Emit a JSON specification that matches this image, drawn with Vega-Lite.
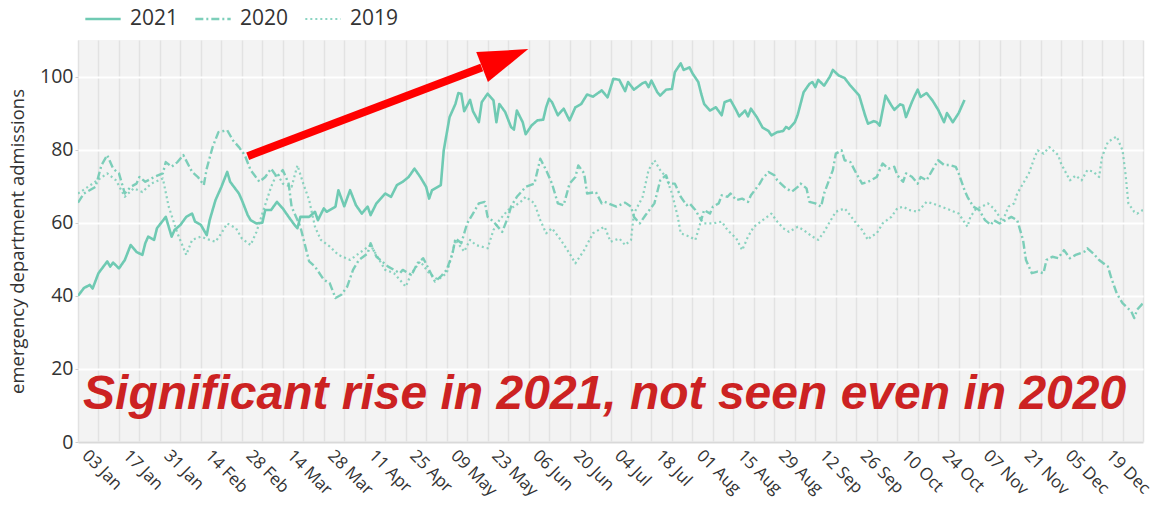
{
  "$schema": "https://vega.github.io/schema/vega-lite/v6.json",
  "width": 1065,
  "height": 402,
  "autosize": {"type": "none"},
  "padding": {"left": 78, "top": 40, "right": 12, "bottom": 63},
  "background": "white",
  "config": {
    "view": {"fill": "#f3f3f3", "stroke": null},
    "font": "Open Sans"
  },
  "datasets": {
    "series": [
      {"date":"2021-01-03","year":"2021","value":40},
      {"date":"2021-01-05","year":"2021","value":42.1},
      {"date":"2021-01-07","year":"2021","value":43},
      {"date":"2021-01-08","year":"2021","value":42},
      {"date":"2021-01-10","year":"2021","value":46.2},
      {"date":"2021-01-13","year":"2021","value":49.4},
      {"date":"2021-01-14","year":"2021","value":48},
      {"date":"2021-01-15","year":"2021","value":49.1},
      {"date":"2021-01-17","year":"2021","value":47.5},
      {"date":"2021-01-19","year":"2021","value":49.8},
      {"date":"2021-01-21","year":"2021","value":53.9},
      {"date":"2021-01-23","year":"2021","value":52},
      {"date":"2021-01-25","year":"2021","value":51.2},
      {"date":"2021-01-26","year":"2021","value":54.4},
      {"date":"2021-01-27","year":"2021","value":56.2},
      {"date":"2021-01-29","year":"2021","value":55.3},
      {"date":"2021-01-30","year":"2021","value":58.5},
      {"date":"2021-02-02","year":"2021","value":61.6},
      {"date":"2021-02-03","year":"2021","value":58.9},
      {"date":"2021-02-04","year":"2021","value":56.2},
      {"date":"2021-02-05","year":"2021","value":58},
      {"date":"2021-02-07","year":"2021","value":59.4},
      {"date":"2021-02-09","year":"2021","value":61.6},
      {"date":"2021-02-11","year":"2021","value":62.5},
      {"date":"2021-02-12","year":"2021","value":60.3},
      {"date":"2021-02-14","year":"2021","value":59.4},
      {"date":"2021-02-16","year":"2021","value":56.6},
      {"date":"2021-02-17","year":"2021","value":60.7},
      {"date":"2021-02-19","year":"2021","value":66.2},
      {"date":"2021-02-21","year":"2021","value":69.8},
      {"date":"2021-02-23","year":"2021","value":73.9},
      {"date":"2021-02-24","year":"2021","value":71.2},
      {"date":"2021-02-27","year":"2021","value":68},
      {"date":"2021-02-28","year":"2021","value":66.2},
      {"date":"2021-03-02","year":"2021","value":62.1},
      {"date":"2021-03-03","year":"2021","value":60.7},
      {"date":"2021-03-05","year":"2021","value":59.8},
      {"date":"2021-03-07","year":"2021","value":60},
      {"date":"2021-03-08","year":"2021","value":63.5},
      {"date":"2021-03-10","year":"2021","value":63.5},
      {"date":"2021-03-12","year":"2021","value":65.7},
      {"date":"2021-03-14","year":"2021","value":63.9},
      {"date":"2021-03-16","year":"2021","value":61.6},
      {"date":"2021-03-18","year":"2021","value":59.4},
      {"date":"2021-03-19","year":"2021","value":58.5},
      {"date":"2021-03-20","year":"2021","value":61.6},
      {"date":"2021-03-23","year":"2021","value":61.6},
      {"date":"2021-03-25","year":"2021","value":63},
      {"date":"2021-03-26","year":"2021","value":60.7},
      {"date":"2021-03-28","year":"2021","value":63.9},
      {"date":"2021-03-29","year":"2021","value":63},
      {"date":"2021-04-01","year":"2021","value":64.4},
      {"date":"2021-04-02","year":"2021","value":68.9},
      {"date":"2021-04-04","year":"2021","value":64.5},
      {"date":"2021-04-06","year":"2021","value":68.9},
      {"date":"2021-04-08","year":"2021","value":64.8},
      {"date":"2021-04-10","year":"2021","value":62.5},
      {"date":"2021-04-12","year":"2021","value":64.4},
      {"date":"2021-04-13","year":"2021","value":62.1},
      {"date":"2021-04-15","year":"2021","value":65.3},
      {"date":"2021-04-18","year":"2021","value":68},
      {"date":"2021-04-20","year":"2021","value":67.1},
      {"date":"2021-04-22","year":"2021","value":70.3},
      {"date":"2021-04-24","year":"2021","value":71.2},
      {"date":"2021-04-26","year":"2021","value":72.5},
      {"date":"2021-04-28","year":"2021","value":74.8},
      {"date":"2021-04-30","year":"2021","value":72.5},
      {"date":"2021-05-02","year":"2021","value":69.8},
      {"date":"2021-05-03","year":"2021","value":66.6},
      {"date":"2021-05-04","year":"2021","value":68.9},
      {"date":"2021-05-07","year":"2021","value":70.3},
      {"date":"2021-05-08","year":"2021","value":79.8},
      {"date":"2021-05-10","year":"2021","value":88.9},
      {"date":"2021-05-12","year":"2021","value":92.5},
      {"date":"2021-05-13","year":"2021","value":95.5},
      {"date":"2021-05-14","year":"2021","value":95.3},
      {"date":"2021-05-15","year":"2021","value":90.5},
      {"date":"2021-05-17","year":"2021","value":93.6},
      {"date":"2021-05-18","year":"2021","value":90.5},
      {"date":"2021-05-20","year":"2021","value":87.5},
      {"date":"2021-05-21","year":"2021","value":93},
      {"date":"2021-05-23","year":"2021","value":95.3},
      {"date":"2021-05-25","year":"2021","value":93.5},
      {"date":"2021-05-26","year":"2021","value":87.5},
      {"date":"2021-05-27","year":"2021","value":92.5},
      {"date":"2021-05-29","year":"2021","value":90.3},
      {"date":"2021-05-31","year":"2021","value":86.2},
      {"date":"2021-06-01","year":"2021","value":85.5},
      {"date":"2021-06-02","year":"2021","value":90.7},
      {"date":"2021-06-04","year":"2021","value":87.5},
      {"date":"2021-06-05","year":"2021","value":84.2},
      {"date":"2021-06-07","year":"2021","value":86.6},
      {"date":"2021-06-09","year":"2021","value":88},
      {"date":"2021-06-11","year":"2021","value":88.2},
      {"date":"2021-06-12","year":"2021","value":91.6},
      {"date":"2021-06-13","year":"2021","value":93.9},
      {"date":"2021-06-14","year":"2021","value":93},
      {"date":"2021-06-16","year":"2021","value":89.4},
      {"date":"2021-06-18","year":"2021","value":91.2},
      {"date":"2021-06-20","year":"2021","value":88},
      {"date":"2021-06-22","year":"2021","value":91.6},
      {"date":"2021-06-24","year":"2021","value":92.5},
      {"date":"2021-06-26","year":"2021","value":95.1},
      {"date":"2021-06-28","year":"2021","value":94.5},
      {"date":"2021-07-01","year":"2021","value":96.2},
      {"date":"2021-07-03","year":"2021","value":94.3},
      {"date":"2021-07-05","year":"2021","value":99.4},
      {"date":"2021-07-07","year":"2021","value":99.1},
      {"date":"2021-07-09","year":"2021","value":96},
      {"date":"2021-07-10","year":"2021","value":98.5},
      {"date":"2021-07-12","year":"2021","value":96.4},
      {"date":"2021-07-15","year":"2021","value":98.2},
      {"date":"2021-07-16","year":"2021","value":98.5},
      {"date":"2021-07-17","year":"2021","value":97.1},
      {"date":"2021-07-18","year":"2021","value":98.9},
      {"date":"2021-07-20","year":"2021","value":95.7},
      {"date":"2021-07-21","year":"2021","value":94.8},
      {"date":"2021-07-23","year":"2021","value":96.4},
      {"date":"2021-07-25","year":"2021","value":96.6},
      {"date":"2021-07-26","year":"2021","value":101.2},
      {"date":"2021-07-28","year":"2021","value":103.6},
      {"date":"2021-07-29","year":"2021","value":101.8},
      {"date":"2021-07-31","year":"2021","value":102.5},
      {"date":"2021-08-01","year":"2021","value":100.9},
      {"date":"2021-08-03","year":"2021","value":98.5},
      {"date":"2021-08-04","year":"2021","value":95.3},
      {"date":"2021-08-05","year":"2021","value":92.5},
      {"date":"2021-08-07","year":"2021","value":90.7},
      {"date":"2021-08-09","year":"2021","value":91.6},
      {"date":"2021-08-11","year":"2021","value":89.4},
      {"date":"2021-08-12","year":"2021","value":93},
      {"date":"2021-08-14","year":"2021","value":93.6},
      {"date":"2021-08-16","year":"2021","value":90.7},
      {"date":"2021-08-17","year":"2021","value":89.1},
      {"date":"2021-08-19","year":"2021","value":90.7},
      {"date":"2021-08-20","year":"2021","value":89.1},
      {"date":"2021-08-21","year":"2021","value":91.2},
      {"date":"2021-08-23","year":"2021","value":88.9},
      {"date":"2021-08-25","year":"2021","value":86},
      {"date":"2021-08-27","year":"2021","value":85.1},
      {"date":"2021-08-28","year":"2021","value":83.9},
      {"date":"2021-08-30","year":"2021","value":84.8},
      {"date":"2021-09-01","year":"2021","value":85.1},
      {"date":"2021-09-02","year":"2021","value":86.2},
      {"date":"2021-09-03","year":"2021","value":85.7},
      {"date":"2021-09-05","year":"2021","value":87.5},
      {"date":"2021-09-06","year":"2021","value":89.6},
      {"date":"2021-09-08","year":"2021","value":95.7},
      {"date":"2021-09-10","year":"2021","value":98},
      {"date":"2021-09-11","year":"2021","value":98.5},
      {"date":"2021-09-12","year":"2021","value":97.1},
      {"date":"2021-09-13","year":"2021","value":99.1},
      {"date":"2021-09-15","year":"2021","value":97.5},
      {"date":"2021-09-17","year":"2021","value":100},
      {"date":"2021-09-18","year":"2021","value":101.8},
      {"date":"2021-09-20","year":"2021","value":100.3},
      {"date":"2021-09-22","year":"2021","value":99.6},
      {"date":"2021-09-24","year":"2021","value":97.5},
      {"date":"2021-09-26","year":"2021","value":95.7},
      {"date":"2021-09-27","year":"2021","value":94.8},
      {"date":"2021-09-29","year":"2021","value":89.4},
      {"date":"2021-09-30","year":"2021","value":87.1},
      {"date":"2021-10-02","year":"2021","value":87.8},
      {"date":"2021-10-03","year":"2021","value":87.5},
      {"date":"2021-10-04","year":"2021","value":86.6},
      {"date":"2021-10-05","year":"2021","value":90.7},
      {"date":"2021-10-06","year":"2021","value":94.8},
      {"date":"2021-10-08","year":"2021","value":92.1},
      {"date":"2021-10-09","year":"2021","value":90.9},
      {"date":"2021-10-11","year":"2021","value":92.4},
      {"date":"2021-10-12","year":"2021","value":92.1},
      {"date":"2021-10-13","year":"2021","value":88.9},
      {"date":"2021-10-15","year":"2021","value":93},
      {"date":"2021-10-16","year":"2021","value":94.8},
      {"date":"2021-10-17","year":"2021","value":96.4},
      {"date":"2021-10-18","year":"2021","value":94.4},
      {"date":"2021-10-20","year":"2021","value":95.5},
      {"date":"2021-10-22","year":"2021","value":93.5},
      {"date":"2021-10-24","year":"2021","value":90.9},
      {"date":"2021-10-26","year":"2021","value":87.5},
      {"date":"2021-10-27","year":"2021","value":90},
      {"date":"2021-10-29","year":"2021","value":87.5},
      {"date":"2021-10-31","year":"2021","value":90},
      {"date":"2021-11-02","year":"2021","value":93.6},

      {"date":"2021-01-03","year":"2020","value":65.5},
      {"date":"2021-01-05","year":"2020","value":68},
      {"date":"2021-01-09","year":"2020","value":69.8},
      {"date":"2021-01-11","year":"2020","value":75.7},
      {"date":"2021-01-13","year":"2020","value":78.5},
      {"date":"2021-01-15","year":"2020","value":74.8},
      {"date":"2021-01-17","year":"2020","value":73.5},
      {"date":"2021-01-19","year":"2020","value":68},
      {"date":"2021-01-21","year":"2020","value":69.8},
      {"date":"2021-01-23","year":"2020","value":70.7},
      {"date":"2021-01-24","year":"2020","value":72.5},
      {"date":"2021-01-26","year":"2020","value":71.2},
      {"date":"2021-01-29","year":"2020","value":72.5},
      {"date":"2021-02-01","year":"2020","value":73.5},
      {"date":"2021-02-02","year":"2020","value":76.6},
      {"date":"2021-02-04","year":"2020","value":75.3},
      {"date":"2021-02-06","year":"2020","value":76.6},
      {"date":"2021-02-08","year":"2020","value":78.5},
      {"date":"2021-02-11","year":"2020","value":73.9},
      {"date":"2021-02-13","year":"2020","value":72.5},
      {"date":"2021-02-15","year":"2020","value":70.3},
      {"date":"2021-02-16","year":"2020","value":74.8},
      {"date":"2021-02-18","year":"2020","value":80.7},
      {"date":"2021-02-20","year":"2020","value":84.8},
      {"date":"2021-02-23","year":"2020","value":85.3},
      {"date":"2021-02-25","year":"2020","value":82.5},
      {"date":"2021-02-27","year":"2020","value":80.7},
      {"date":"2021-03-01","year":"2020","value":78.5},
      {"date":"2021-03-03","year":"2020","value":74.4},
      {"date":"2021-03-06","year":"2020","value":71.2},
      {"date":"2021-03-08","year":"2020","value":72.5},
      {"date":"2021-03-10","year":"2020","value":74.8},
      {"date":"2021-03-12","year":"2020","value":72.5},
      {"date":"2021-03-14","year":"2020","value":74.4},
      {"date":"2021-03-16","year":"2020","value":70.7},
      {"date":"2021-03-17","year":"2020","value":64.4},
      {"date":"2021-03-20","year":"2020","value":58.9},
      {"date":"2021-03-23","year":"2020","value":49.4},
      {"date":"2021-03-25","year":"2020","value":48},
      {"date":"2021-03-28","year":"2020","value":44.4},
      {"date":"2021-03-30","year":"2020","value":43.5},
      {"date":"2021-04-01","year":"2020","value":39.4},
      {"date":"2021-04-03","year":"2020","value":40.3},
      {"date":"2021-04-05","year":"2020","value":42.5},
      {"date":"2021-04-07","year":"2020","value":47.1},
      {"date":"2021-04-09","year":"2020","value":49.8},
      {"date":"2021-04-12","year":"2020","value":51.6},
      {"date":"2021-04-13","year":"2020","value":54.4},
      {"date":"2021-04-15","year":"2020","value":50.7},
      {"date":"2021-04-19","year":"2020","value":48},
      {"date":"2021-04-21","year":"2020","value":47.1},
      {"date":"2021-04-23","year":"2020","value":46.2},
      {"date":"2021-04-24","year":"2020","value":47.1},
      {"date":"2021-04-27","year":"2020","value":45.7},
      {"date":"2021-04-29","year":"2020","value":48.9},
      {"date":"2021-05-01","year":"2020","value":50.3},
      {"date":"2021-05-03","year":"2020","value":47.1},
      {"date":"2021-05-05","year":"2020","value":43.9},
      {"date":"2021-05-07","year":"2020","value":45.3},
      {"date":"2021-05-09","year":"2020","value":47.1},
      {"date":"2021-05-11","year":"2020","value":51.6},
      {"date":"2021-05-12","year":"2020","value":55.7},
      {"date":"2021-05-14","year":"2020","value":54.4},
      {"date":"2021-05-16","year":"2020","value":59.8},
      {"date":"2021-05-18","year":"2020","value":62.5},
      {"date":"2021-05-20","year":"2020","value":65.3},
      {"date":"2021-05-22","year":"2020","value":65.7},
      {"date":"2021-05-23","year":"2020","value":61.6},
      {"date":"2021-05-25","year":"2020","value":60.3},
      {"date":"2021-05-28","year":"2020","value":57.5},
      {"date":"2021-05-30","year":"2020","value":61.6},
      {"date":"2021-05-31","year":"2020","value":64.4},
      {"date":"2021-06-02","year":"2020","value":67.1},
      {"date":"2021-06-04","year":"2020","value":68.9},
      {"date":"2021-06-05","year":"2020","value":69.8},
      {"date":"2021-06-08","year":"2020","value":70.7},
      {"date":"2021-06-10","year":"2020","value":77.5},
      {"date":"2021-06-12","year":"2020","value":74.4},
      {"date":"2021-06-14","year":"2020","value":70.7},
      {"date":"2021-06-16","year":"2020","value":65.3},
      {"date":"2021-06-18","year":"2020","value":64.8},
      {"date":"2021-06-20","year":"2020","value":70.7},
      {"date":"2021-06-22","year":"2020","value":72.5},
      {"date":"2021-06-23","year":"2020","value":75.7},
      {"date":"2021-06-25","year":"2020","value":73.5},
      {"date":"2021-06-26","year":"2020","value":68},
      {"date":"2021-06-29","year":"2020","value":68.4},
      {"date":"2021-07-01","year":"2020","value":65.3},
      {"date":"2021-07-02","year":"2020","value":65.7},
      {"date":"2021-07-06","year":"2020","value":64.4},
      {"date":"2021-07-09","year":"2020","value":65.5},
      {"date":"2021-07-11","year":"2020","value":64.4},
      {"date":"2021-07-12","year":"2020","value":61.6},
      {"date":"2021-07-14","year":"2020","value":59.8},
      {"date":"2021-07-16","year":"2020","value":62.1},
      {"date":"2021-07-19","year":"2020","value":65.3},
      {"date":"2021-07-21","year":"2020","value":71.6},
      {"date":"2021-07-23","year":"2020","value":73},
      {"date":"2021-07-24","year":"2020","value":70.7},
      {"date":"2021-07-26","year":"2020","value":70.7},
      {"date":"2021-07-28","year":"2020","value":67.1},
      {"date":"2021-07-30","year":"2020","value":64.8},
      {"date":"2021-07-31","year":"2020","value":65.3},
      {"date":"2021-08-02","year":"2020","value":63.5},
      {"date":"2021-08-04","year":"2020","value":60.7},
      {"date":"2021-08-05","year":"2020","value":63.5},
      {"date":"2021-08-07","year":"2020","value":62.5},
      {"date":"2021-08-08","year":"2020","value":64.4},
      {"date":"2021-08-10","year":"2020","value":65.3},
      {"date":"2021-08-11","year":"2020","value":67.5},
      {"date":"2021-08-13","year":"2020","value":67.1},
      {"date":"2021-08-14","year":"2020","value":68},
      {"date":"2021-08-16","year":"2020","value":66.2},
      {"date":"2021-08-18","year":"2020","value":66.6},
      {"date":"2021-08-20","year":"2020","value":65.7},
      {"date":"2021-08-21","year":"2020","value":67.5},
      {"date":"2021-08-24","year":"2020","value":70.7},
      {"date":"2021-08-25","year":"2020","value":72.1},
      {"date":"2021-08-27","year":"2020","value":73.9},
      {"date":"2021-08-29","year":"2020","value":73},
      {"date":"2021-08-30","year":"2020","value":71.6},
      {"date":"2021-09-02","year":"2020","value":69.4},
      {"date":"2021-09-04","year":"2020","value":68.5},
      {"date":"2021-09-06","year":"2020","value":69.8},
      {"date":"2021-09-07","year":"2020","value":70.7},
      {"date":"2021-09-09","year":"2020","value":69.4},
      {"date":"2021-09-10","year":"2020","value":65.7},
      {"date":"2021-09-12","year":"2020","value":65.3},
      {"date":"2021-09-14","year":"2020","value":64.4},
      {"date":"2021-09-15","year":"2020","value":68},
      {"date":"2021-09-18","year":"2020","value":74.4},
      {"date":"2021-09-19","year":"2020","value":78.9},
      {"date":"2021-09-21","year":"2020","value":79.8},
      {"date":"2021-09-22","year":"2020","value":77.1},
      {"date":"2021-09-24","year":"2020","value":76.6},
      {"date":"2021-09-26","year":"2020","value":73.5},
      {"date":"2021-09-28","year":"2020","value":70.7},
      {"date":"2021-09-30","year":"2020","value":71.2},
      {"date":"2021-10-01","year":"2020","value":71.6},
      {"date":"2021-10-03","year":"2020","value":72.5},
      {"date":"2021-10-05","year":"2020","value":76.2},
      {"date":"2021-10-07","year":"2020","value":74.8},
      {"date":"2021-10-09","year":"2020","value":75.3},
      {"date":"2021-10-10","year":"2020","value":73},
      {"date":"2021-10-12","year":"2020","value":71.2},
      {"date":"2021-10-13","year":"2020","value":73.5},
      {"date":"2021-10-15","year":"2020","value":72.6},
      {"date":"2021-10-17","year":"2020","value":70.7},
      {"date":"2021-10-18","year":"2020","value":72.5},
      {"date":"2021-10-20","year":"2020","value":71.6},
      {"date":"2021-10-22","year":"2020","value":74.4},
      {"date":"2021-10-24","year":"2020","value":77.1},
      {"date":"2021-10-26","year":"2020","value":75.8},
      {"date":"2021-10-28","year":"2020","value":75.8},
      {"date":"2021-10-30","year":"2020","value":75.3},
      {"date":"2021-10-31","year":"2020","value":73.5},
      {"date":"2021-11-02","year":"2020","value":68.9},
      {"date":"2021-11-03","year":"2020","value":67.1},
      {"date":"2021-11-05","year":"2020","value":64.4},
      {"date":"2021-11-07","year":"2020","value":63.5},
      {"date":"2021-11-09","year":"2020","value":60.7},
      {"date":"2021-11-11","year":"2020","value":59.4},
      {"date":"2021-11-12","year":"2020","value":60.7},
      {"date":"2021-11-14","year":"2020","value":59.8},
      {"date":"2021-11-16","year":"2020","value":60.7},
      {"date":"2021-11-18","year":"2020","value":61.6},
      {"date":"2021-11-20","year":"2020","value":60.7},
      {"date":"2021-11-22","year":"2020","value":55.3},
      {"date":"2021-11-23","year":"2020","value":49.8},
      {"date":"2021-11-25","year":"2020","value":46.2},
      {"date":"2021-11-27","year":"2020","value":46.6},
      {"date":"2021-11-29","year":"2020","value":46.2},
      {"date":"2021-11-30","year":"2020","value":49.8},
      {"date":"2021-12-02","year":"2020","value":50.7},
      {"date":"2021-12-04","year":"2020","value":50.3},
      {"date":"2021-12-06","year":"2020","value":52.5},
      {"date":"2021-12-08","year":"2020","value":50.3},
      {"date":"2021-12-10","year":"2020","value":51.2},
      {"date":"2021-12-13","year":"2020","value":52.1},
      {"date":"2021-12-14","year":"2020","value":53},
      {"date":"2021-12-16","year":"2020","value":51.6},
      {"date":"2021-12-18","year":"2020","value":49.8},
      {"date":"2021-12-21","year":"2020","value":48},
      {"date":"2021-12-22","year":"2020","value":45.3},
      {"date":"2021-12-24","year":"2020","value":40.7},
      {"date":"2021-12-26","year":"2020","value":38},
      {"date":"2021-12-29","year":"2020","value":35.7},
      {"date":"2021-12-30","year":"2020","value":33.9},
      {"date":"2021-12-31","year":"2020","value":36.2},
      {"date":"2022-01-02","year":"2020","value":38},

      {"date":"2021-01-03","year":"2019","value":68},
      {"date":"2021-01-04","year":"2019","value":68.5},
      {"date":"2021-01-08","year":"2019","value":70.7},
      {"date":"2021-01-13","year":"2019","value":73.5},
      {"date":"2021-01-16","year":"2019","value":71.6},
      {"date":"2021-01-19","year":"2019","value":67.1},
      {"date":"2021-01-22","year":"2019","value":69.4},
      {"date":"2021-01-25","year":"2019","value":68.4},
      {"date":"2021-01-28","year":"2019","value":70.7},
      {"date":"2021-02-01","year":"2019","value":72.1},
      {"date":"2021-02-03","year":"2019","value":64.4},
      {"date":"2021-02-06","year":"2019","value":57.1},
      {"date":"2021-02-09","year":"2019","value":51.2},
      {"date":"2021-02-11","year":"2019","value":55.3},
      {"date":"2021-02-14","year":"2019","value":56.2},
      {"date":"2021-02-17","year":"2019","value":55.3},
      {"date":"2021-02-19","year":"2019","value":54.8},
      {"date":"2021-02-21","year":"2019","value":57.1},
      {"date":"2021-02-23","year":"2019","value":59.8},
      {"date":"2021-02-26","year":"2019","value":58.5},
      {"date":"2021-02-28","year":"2019","value":55.7},
      {"date":"2021-03-03","year":"2019","value":53.9},
      {"date":"2021-03-05","year":"2019","value":57.5},
      {"date":"2021-03-07","year":"2019","value":62.5},
      {"date":"2021-03-10","year":"2019","value":69.8},
      {"date":"2021-03-12","year":"2019","value":73.5},
      {"date":"2021-03-14","year":"2019","value":70.7},
      {"date":"2021-03-17","year":"2019","value":69.8},
      {"date":"2021-03-19","year":"2019","value":75.7},
      {"date":"2021-03-21","year":"2019","value":70.7},
      {"date":"2021-03-23","year":"2019","value":66.2},
      {"date":"2021-03-25","year":"2019","value":58.9},
      {"date":"2021-03-27","year":"2019","value":55.3},
      {"date":"2021-03-30","year":"2019","value":53.5},
      {"date":"2021-04-02","year":"2019","value":51.2},
      {"date":"2021-04-06","year":"2019","value":49.8},
      {"date":"2021-04-09","year":"2019","value":51.6},
      {"date":"2021-04-13","year":"2019","value":53.9},
      {"date":"2021-04-16","year":"2019","value":49.8},
      {"date":"2021-04-18","year":"2019","value":47.1},
      {"date":"2021-04-21","year":"2019","value":46.2},
      {"date":"2021-04-25","year":"2019","value":42.5},
      {"date":"2021-04-27","year":"2019","value":46.2},
      {"date":"2021-04-30","year":"2019","value":49.4},
      {"date":"2021-05-03","year":"2019","value":46.2},
      {"date":"2021-05-06","year":"2019","value":44.4},
      {"date":"2021-05-09","year":"2019","value":46.2},
      {"date":"2021-05-11","year":"2019","value":51.6},
      {"date":"2021-05-12","year":"2019","value":55.3},
      {"date":"2021-05-15","year":"2019","value":52.1},
      {"date":"2021-05-17","year":"2019","value":55.3},
      {"date":"2021-05-19","year":"2019","value":53.9},
      {"date":"2021-05-23","year":"2019","value":53},
      {"date":"2021-05-25","year":"2019","value":58},
      {"date":"2021-05-27","year":"2019","value":60.7},
      {"date":"2021-05-30","year":"2019","value":63.5},
      {"date":"2021-06-01","year":"2019","value":64.4},
      {"date":"2021-06-04","year":"2019","value":66.2},
      {"date":"2021-06-05","year":"2019","value":67.1},
      {"date":"2021-06-08","year":"2019","value":65.3},
      {"date":"2021-06-10","year":"2019","value":60.7},
      {"date":"2021-06-12","year":"2019","value":57.1},
      {"date":"2021-06-14","year":"2019","value":58.5},
      {"date":"2021-06-17","year":"2019","value":55.3},
      {"date":"2021-06-20","year":"2019","value":51.6},
      {"date":"2021-06-22","year":"2019","value":48.9},
      {"date":"2021-06-25","year":"2019","value":52.5},
      {"date":"2021-06-28","year":"2019","value":57.1},
      {"date":"2021-07-01","year":"2019","value":58.5},
      {"date":"2021-07-02","year":"2019","value":58.9},
      {"date":"2021-07-04","year":"2019","value":54.8},
      {"date":"2021-07-07","year":"2019","value":55.7},
      {"date":"2021-07-09","year":"2019","value":53.9},
      {"date":"2021-07-11","year":"2019","value":55.3},
      {"date":"2021-07-12","year":"2019","value":62.5},
      {"date":"2021-07-15","year":"2019","value":67.1},
      {"date":"2021-07-17","year":"2019","value":74.4},
      {"date":"2021-07-19","year":"2019","value":77.1},
      {"date":"2021-07-21","year":"2019","value":74.4},
      {"date":"2021-07-23","year":"2019","value":72.5},
      {"date":"2021-07-25","year":"2019","value":68},
      {"date":"2021-07-27","year":"2019","value":61.6},
      {"date":"2021-07-28","year":"2019","value":57.1},
      {"date":"2021-07-31","year":"2019","value":56.2},
      {"date":"2021-08-02","year":"2019","value":55.3},
      {"date":"2021-08-04","year":"2019","value":60.7},
      {"date":"2021-08-05","year":"2019","value":59.8},
      {"date":"2021-08-08","year":"2019","value":59.8},
      {"date":"2021-08-11","year":"2019","value":60.3},
      {"date":"2021-08-13","year":"2019","value":58},
      {"date":"2021-08-16","year":"2019","value":55.7},
      {"date":"2021-08-18","year":"2019","value":52.5},
      {"date":"2021-08-20","year":"2019","value":56.2},
      {"date":"2021-08-22","year":"2019","value":58.9},
      {"date":"2021-08-25","year":"2019","value":60.7},
      {"date":"2021-08-28","year":"2019","value":62.5},
      {"date":"2021-08-30","year":"2019","value":60.3},
      {"date":"2021-09-01","year":"2019","value":58.5},
      {"date":"2021-09-03","year":"2019","value":57.5},
      {"date":"2021-09-06","year":"2019","value":58.9},
      {"date":"2021-09-08","year":"2019","value":58},
      {"date":"2021-09-11","year":"2019","value":56.2},
      {"date":"2021-09-13","year":"2019","value":55.3},
      {"date":"2021-09-15","year":"2019","value":57.5},
      {"date":"2021-09-17","year":"2019","value":60.3},
      {"date":"2021-09-19","year":"2019","value":63},
      {"date":"2021-09-22","year":"2019","value":63.9},
      {"date":"2021-09-23","year":"2019","value":63},
      {"date":"2021-09-26","year":"2019","value":59.8},
      {"date":"2021-09-28","year":"2019","value":58},
      {"date":"2021-09-30","year":"2019","value":55.3},
      {"date":"2021-10-01","year":"2019","value":56.2},
      {"date":"2021-10-03","year":"2019","value":57.1},
      {"date":"2021-10-05","year":"2019","value":59.8},
      {"date":"2021-10-08","year":"2019","value":61.6},
      {"date":"2021-10-10","year":"2019","value":63.9},
      {"date":"2021-10-12","year":"2019","value":64.4},
      {"date":"2021-10-14","year":"2019","value":63.5},
      {"date":"2021-10-17","year":"2019","value":63},
      {"date":"2021-10-20","year":"2019","value":65.7},
      {"date":"2021-10-22","year":"2019","value":65.3},
      {"date":"2021-10-25","year":"2019","value":64.4},
      {"date":"2021-10-28","year":"2019","value":63.5},
      {"date":"2021-10-31","year":"2019","value":62.5},
      {"date":"2021-11-03","year":"2019","value":58.9},
      {"date":"2021-11-04","year":"2019","value":61.6},
      {"date":"2021-11-06","year":"2019","value":63.9},
      {"date":"2021-11-08","year":"2019","value":64.4},
      {"date":"2021-11-10","year":"2019","value":65.3},
      {"date":"2021-11-12","year":"2019","value":63.9},
      {"date":"2021-11-14","year":"2019","value":61.6},
      {"date":"2021-11-15","year":"2019","value":60.3},
      {"date":"2021-11-17","year":"2019","value":64.4},
      {"date":"2021-11-19","year":"2019","value":65.3},
      {"date":"2021-11-20","year":"2019","value":68},
      {"date":"2021-11-22","year":"2019","value":70.7},
      {"date":"2021-11-24","year":"2019","value":73.5},
      {"date":"2021-11-26","year":"2019","value":78},
      {"date":"2021-11-27","year":"2019","value":79.8},
      {"date":"2021-11-29","year":"2019","value":78.9},
      {"date":"2021-12-01","year":"2019","value":80.7},
      {"date":"2021-12-04","year":"2019","value":78.5},
      {"date":"2021-12-05","year":"2019","value":76.2},
      {"date":"2021-12-08","year":"2019","value":71.6},
      {"date":"2021-12-10","year":"2019","value":72.9},
      {"date":"2021-12-12","year":"2019","value":71.6},
      {"date":"2021-12-14","year":"2019","value":74.4},
      {"date":"2021-12-16","year":"2019","value":74},
      {"date":"2021-12-18","year":"2019","value":72.5},
      {"date":"2021-12-19","year":"2019","value":78},
      {"date":"2021-12-21","year":"2019","value":82.1},
      {"date":"2021-12-24","year":"2019","value":83.6},
      {"date":"2021-12-26","year":"2019","value":79.8},
      {"date":"2021-12-27","year":"2019","value":73.5},
      {"date":"2021-12-28","year":"2019","value":65.3},
      {"date":"2021-12-30","year":"2019","value":63},
      {"date":"2021-12-31","year":"2019","value":62.5},
      {"date":"2022-01-02","year":"2019","value":63.5}
    ],
    "note": [
      {"date":"2021-07-02","value":9.1,"label":"Significant rise in 2021, not seen even in 2020"}
    ],
    "shaft": [
      {"date":"2021-03-02","value":78.2,"date2":"2021-05-21","value2":102.5}
    ],
    "head": [
      {"date":"2021-05-29","value":105.05}
    ]
  },
  "layer": [
    {
      "data": {"name": "series"},
      "mark": {"type": "line", "strokeJoin": "round", "clip": true},
      "encoding": {
        "x": {
          "field": "date", "type": "temporal",
          "scale": {"domain": [{"year":2021,"month":1,"date":3},{"year":2022,"month":1,"date":2}]},
          "axis": {
            "title": null,
            "tickCount": {"interval": "week", "step": 1},
            "grid": true, "gridColor": "#e2e2e2", "gridWidth": 1.5,
            "ticks": false,
            "domain": true, "domainColor": "#d9d9d9", "domainWidth": 2,
            "labelAngle": 45, "labelAlign": "left", "labelBaseline": "bottom",
            "labelFontSize": 17, "labelColor": "#333333", "labelPadding": 17,
            "labelOverlap": false, "labelFlush": false, "labelBound": false,
            "labelExpr": "datum.value < datetime(2021,11,31) && round((datum.value - datetime(2021,0,3))/86400000) % 14 === 0 ? timeFormat(datum.value, '%d %b') : ''"
          }
        },
        "y": {
          "field": "value", "type": "quantitative",
          "scale": {"domain": [0, 110]},
          "axis": {
            "title": "emergency department admissions",
            "values": [0, 20, 40, 60, 80, 100],
            "grid": true, "gridColor": "#ffffff", "gridWidth": 2,
            "domain": false,
            "ticks": true, "tickSize": 3, "tickColor": "#d0d0d0",
            "labelFontSize": 19.5, "labelColor": "#333333", "labelPadding": 2,
            "titleFontSize": 18.5, "titleFontWeight": "normal", "titleColor": "#333333", "titlePadding": 12
          }
        },
        "color": {"value": "#6fcab3"},
        "strokeDash": {
          "field": "year", "type": "nominal",
          "scale": {"domain": ["2021", "2020", "2019"], "range": [[1, 0], [8, 3, 2, 3], [2, 3]]},
          "legend": {
            "title": null, "orient": "none", "direction": "horizontal",
            "legendX": 6, "legendY": -40,
            "symbolType": "stroke", "symbolSize": 1250, "symbolStrokeColor": "#6fcab3",
            "labelFontSize": 21, "labelColor": "#333333", "labelOffset": 8, "columnPadding": 11
          }
        },
        "strokeWidth": {
          "field": "year", "type": "nominal",
          "scale": {"domain": ["2021", "2020", "2019"], "range": [2.6, 2.2, 2.2]},
          "legend": null
        },
        "opacity": {
          "field": "year", "type": "nominal",
          "scale": {"domain": ["2021", "2020", "2019"], "range": [1, 0.8, 0.8]},
          "legend": null
        }
      }
    },
    {
      "data": {"name": "note"},
      "mark": {"type": "text", "font": "Liberation Sans", "fontSize": 48, "fontStyle": "italic", "fontWeight": "bold", "color": "#cc2222", "align": "center", "baseline": "alphabetic"},
      "encoding": {
        "x": {"field": "date", "type": "temporal"},
        "y": {"field": "value", "type": "quantitative"},
        "text": {"field": "label"}
      }
    },
    {
      "data": {"name": "shaft"},
      "mark": {"type": "rule", "color": "#ff0000", "strokeWidth": 8, "strokeCap": "butt"},
      "encoding": {
        "x": {"field": "date", "type": "temporal"},
        "y": {"field": "value", "type": "quantitative"},
        "x2": {"field": "date2"},
        "y2": {"field": "value2"}
      }
    },
    {
      "data": {"name": "head"},
      "mark": {"type": "point", "shape": "M1,0L-1,-0.65L-1,0.65Z", "size": 2460, "filled": true, "color": "#ff0000", "opacity": 1, "strokeWidth": 0, "angle": 338.7},
      "encoding": {
        "x": {"field": "date", "type": "temporal"},
        "y": {"field": "value", "type": "quantitative"}
      }
    }
  ]
}
